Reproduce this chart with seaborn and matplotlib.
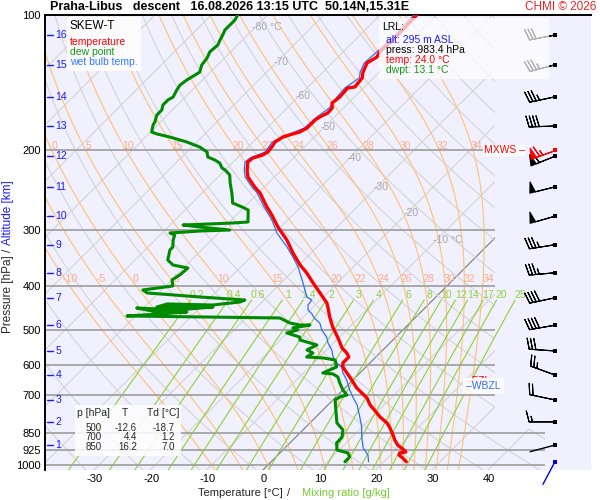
import numpy as np
import pandas as pd
import matplotlib
matplotlib.use("Agg")
import matplotlib.pyplot as plt
import seaborn as sns
from matplotlib.patches import Polygon, Rectangle
from matplotlib.transforms import ScaledTranslation, blended_transform_factory

# ---- sounding: temperature, dew point, wet bulb (hPa, degC)
temp_p = [100, 110.8, 120.8, 124.0, 127.8, 133.9, 138.0, 144.5, 145.3, 152.1,
          156.9, 160.9, 165.1, 168.5, 171.1, 178.3, 182.0, 183.8, 186.7, 191.5,
          196.5, 201.6, 204.7, 207.9, 212.1, 221.0, 229.1, 241.2, 248.7, 267.1,
          278.3, 295.9, 316.2, 338.0, 359.4, 374.4, 394.0, 414.7, 436.5, 447.8,
          469.0, 493.5, 522.2, 549.5, 563.7, 575.4, 593.3, 605.6, 624.5, 647.3,
          674.3, 691.8, 709.7, 735.6, 762.5, 782.2, 806.5, 827.3, 857.7, 879.9,
          902.8, 921.3, 935.6, 940.4, 950.1, 964.8, 983.4]
temp_c = [-53.5, -53.3, -53.5, -53.1, -53.8, -52.9, -52.0, -51.7, -52.8, -52.6,
          -52.9, -52.0, -51.9, -52.6, -52.9, -52.9, -53.5, -54.4, -55.6, -56.1,
          -55.8, -55.6, -56.0, -57.2, -57.4, -56.1, -54.7, -51.7, -49.7, -46.0,
          -43.7, -40.5, -36.6, -33.2, -29.8, -27.2, -24.3, -21.3, -18.3, -17.2,
          -15.3, -13.0, -10.1, -7.6, -5.9, -4.8, -4.8, -4.1, -2.3, -0.2,
          2.1, 3.9, 5.7, 7.5, 9.8, 11.4, 13.7, 15.1, 16.9, 18.1,
          19.5, 21.1, 22.2, 21.3, 21.5, 22.7, 24.0]

dewp_p = [100, 102.6, 105.2, 108.0, 110.8, 113.6, 116.6, 120.8, 124.6, 129.2,
          133.9, 135.9, 139.5, 143.1, 146.8, 152.1, 154.5, 158.5, 162.6, 166.8,
          172.9, 175.5, 182.0, 183.8, 186.7, 191.5, 196.5, 201.6, 206.8, 210.0,
          213.3, 218.8, 221.0, 226.7, 236.2, 248.7, 261.7, 267.1, 271.2, 288.4,
          289.9, 292.9, 295.9, 300.5, 302.0, 305.1, 308.3, 316.2, 327.9, 332.8,
          350.3, 359.4, 365.0, 378.2, 387.9, 400.1, 408.4, 414.7, 423.3, 429.9,
          434.3, 441.0, 438.7, 445.6, 445.6, 452.4, 447.8, 457.1, 457.1, 461.7,
          466.5, 471.3, 483.6, 488.6, 488.6, 496.1, 501.2, 508.9, 519.5, 527.5,
          535.6, 541.2, 555.0, 563.7, 575.4, 578.3, 584.3, 605.6, 624.5, 627.7,
          637.4, 657.3, 681.3, 698.9, 706.1, 717.0, 754.7, 806.5, 835.8, 866.6,
          893.6, 926.1, 940.4, 959.9, 983.4]
dewp_c = [-85.3, -84.9, -84.9, -84.9, -84.4, -84.0, -83.5, -83.7, -83.1, -82.8,
          -81.9, -82.2, -82.8, -83.1, -82.8, -82.2, -82.6, -82.6, -81.9, -81.9,
          -81.0, -80.8, -79.8, -78.5, -75.7, -71.8, -68.6, -66.4, -65.4, -63.6,
          -62.2, -60.9, -60.0, -58.3, -56.8, -54.7, -52.8, -50.4, -48.8, -46.7,
          -49.2, -57.7, -54.4, -48.5, -53.6, -58.6, -57.4, -56.8, -55.6, -55.6,
          -54.2, -52.4, -49.2, -49.4, -49.9, -48.7, -53.3, -52.0, -41.9, -33.4,
          -33.9, -38.2, -46.5, -47.8, -37.8, -43.7, -51.2, -46.9, -41.6, -46.0,
          -51.5, -24.0, -21.3, -19.2, -17.4, -19.9, -18.7, -20.1, -17.1, -16.5,
          -14.2, -12.6, -13.5, -11.9, -12.3, -9.2, -6.7, -5.2, -6.6, -4.6,
          -3.2, -1.8, 0.0, 1.6, 0.7, 0.4, 2.3, 4.8, 7.1, 8.2,
          8.3, 9.6, 12.1, 13.1, 13.1]

wetb_p = [100, 110.8, 120.8, 127.8, 133.9, 138.0, 145.3, 152.1, 160.9, 168.5,
          178.3, 183.8, 191.5, 201.6, 207.9, 212.1, 221.0, 229.1, 241.2, 248.7,
          267.1, 278.3, 288.4, 305.1, 316.2, 327.9, 345.0, 363.1, 387.9, 408.4,
          423.3, 429.9, 441.0, 452.4, 461.7, 471.3, 483.6, 501.2, 519.5, 535.6,
          555.0, 575.4, 593.3, 605.6, 624.5, 647.3, 681.3, 706.1, 735.6, 782.2,
          823.2, 866.6, 916.6, 950.1, 983.4]
wetb_c = [-54.0, -53.8, -54.0, -54.3, -53.4, -52.5, -53.3, -53.1, -52.5, -53.1,
          -53.4, -54.9, -56.6, -56.1, -57.7, -57.9, -56.6, -55.2, -52.2, -50.2,
          -46.5, -44.2, -42.3, -39.6, -37.5, -35.3, -32.5, -29.8, -26.8, -24.5,
          -22.9, -21.5, -21.3, -20.4, -19.0, -17.9, -16.0, -14.4, -12.3, -11.0,
          -9.1, -7.6, -5.9, -4.3, -3.0, -1.1, 1.2, 3.0, 5.2, 7.8,
          9.9, 11.7, 13.9, 16.0, 17.3]

# ---- altitude scale and winds at each km
alt_km = [1, 2, 3, 4, 5, 6, 7, 8, 9, 10, 11, 12, 13, 14, 15, 16]
alt_p = [903, 802, 717, 631, 558, 489, 425, 374, 324, 280, 241, 206, 176.5, 152, 129, 110.8]
wind_dir = [255, 270, 282, 290, 274, 260, 258, 265, 261, 254, 256, 248, 268, 258, 255, 259]
wind_kt = [3, 15, 20, 25, 30, 40, 40, 35, 35, 50, 50, 60, 40, 35, 35, 30]
mxws_p, mxws_dir, mxws_kt = 200, 250, 65
sfc_p, sfc_dir, sfc_kt = 983.4, 208, 2

# ---- diagram furniture
p_levels = [100, 200, 300, 400, 500, 600, 700, 850, 925, 1000]
t_ticks = [-30, -20, -10, 0, 10, 20, 30, 40]
isotherms = list(range(-140, 60, 10))
dry_theta = list(range(200, 490, 10))
theta_w = [-10, -5, 0, 5, 10, 15, 20, 22, 24, 26, 28, 30, 32, 34]
theta_w_top = [0, 5, 10, 15, 20, 22, 24, 26, 28, 30, 32, 34]
mix_ratio = [0.2, 0.4, 0.6, 1, 1.4, 2, 3, 4, 6, 8, 10, 12, 14, 17, 20, 25]
iso_lbl_t = [-80, -70, -60, -50, -40, -30, -20, -10]
iso_lbl_p = [106.3, 127.2, 151.4, 177.4, 207.7, 240.7, 275.5, 316.0]
table_p = [500, 700, 850]
table_t = [-12.6, 4.4, 16.2]
table_td = [-18.7, 1.2, 7.0]

SKEW = 79.93          # degC per decade of pressure
X_LEFT, X_RIGHT = -39.6, 57.4
X_GRID1, X_GRID2 = 40.3, 49.2
X_BARB = 51.0
P_BOTTOM = 1026


def skew_x(t, p):
    return np.asarray(t, float) + SKEW * np.log10(1000.0 / np.asarray(p, float))


def moist_lapse(pp, tk):
    es = 6.112 * np.exp(17.67 * (tk - 273.15) / (tk - 29.65))
    rs = 0.622 * es / (pp - es)
    return (287.04 * tk + 2.501e6 * rs) / (pp * (1005.7 + 2.501e6 ** 2 * rs * 0.622 / (287.04 * tk ** 2)))


def pseudo_adiabat(tw, p_path):
    tk = [np.asarray(tw, float) + 273.15]
    for p0, p1 in zip(p_path[:-1], p_path[1:]):
        h = p1 - p0
        t0 = tk[-1]
        k1 = moist_lapse(p0, t0)
        k2 = moist_lapse(p0 + h / 2, t0 + h * k1 / 2)
        k3 = moist_lapse(p0 + h / 2, t0 + h * k2 / 2)
        k4 = moist_lapse(p1, t0 + h * k3)
        tk.append(t0 + h * (k1 + 2 * k2 + 2 * k3 + k4) / 6)
    return np.array(tk) - 273.15


def dewpoint_of_mix(w, p):
    e = (w / 1000.0) * p / (0.622 + w / 1000.0)
    a = np.log(e / 6.112)
    return 243.5 * a / (17.67 - a)


def fig_xy(x, y):
    return x / 600, 1 - y / 500


sns.set_theme(style="white")
plt.rcParams["font.family"] = ["Liberation Sans", "DejaVu Sans"]
plt.rcParams["axes.unicode_minus"] = False

fig = plt.figure(figsize=(6, 5), dpi=100)
ax = fig.add_axes([45 / 600, 30 / 500, 546 / 600, 455 / 500])
ax.set_facecolor("#f0f0fe")
ax.set_yscale("log")
ax.set_ylim(P_BOTTOM, 100)
ax.set_xlim(X_LEFT, X_RIGHT)

clip = Polygon([(X_LEFT - 5, 90), (X_GRID1, 90), (X_GRID1, 830), (X_GRID2, 830),
                (X_GRID2, 1100), (X_LEFT - 5, 1100)], closed=True,
               transform=ax.transData, fc="none", ec="none")

# isotherms and dry adiabats
p_edge = np.array([1100, 90])
p_curve = np.geomspace(1100, 90, 150)
for t in isotherms:
    ln, = ax.plot(skew_x(t, p_edge), p_edge, color="#7a7a7a" if t == 0 else "#d4d4d4",
                  lw=0.8, zorder=1)
    ln.set_clip_path(clip)
for th in dry_theta:
    tc = th * (p_curve / 1000.0) ** 0.2857 - 273.15
    ln, = ax.plot(skew_x(tc, p_curve), p_curve, color="#d4d4d4", lw=0.8, zorder=1)
    ln.set_clip_path(clip)

# moist adiabats
p_up = np.geomspace(1000, 100, 200)
p_dn = np.geomspace(1000, 1100, 10)
t_up = pseudo_adiabat(theta_w, p_up)
t_dn = pseudo_adiabat(theta_w, p_dn)
for i, tw in enumerate(theta_w):
    pp = np.concatenate([p_dn[::-1], p_up[1:]])
    tt = np.concatenate([t_dn[::-1, i], t_up[1:, i]])
    ln, = ax.plot(skew_x(tt, pp), pp, color="#ffc275", lw=0.8, zorder=1.5)
    ln.set_clip_path(clip)
    for row_p, row_vals in ((195, theta_w_top), (386, theta_w)):
        if tw in row_vals:
            t_at = np.interp(np.log(row_p), np.log(p_up[::-1]), t_up[::-1, i])
            ax.text(skew_x(t_at, row_p) + 0.9, row_p, f"{tw:g}", color="#ffab8a", fontsize=7.5,
                    ha="center", va="center", zorder=2)

# mixing ratio lines
p_mix = np.geomspace(1100, 430, 40)
for w in mix_ratio:
    ax.plot(skew_x(dewpoint_of_mix(w, p_mix), p_mix), p_mix, color="#8fd22e", lw=0.8, zorder=1.8)
    ax.text(skew_x(dewpoint_of_mix(w, 419.0), 419.0) + 0.4, 419.0, f"{w:g}", color="#95cf3e",
            fontsize=7.5, ha="center", va="center", zorder=2)

# isotherm labels
for t, p in zip(iso_lbl_t, iso_lbl_p):
    txt = f"{t} °C" if t in (-80, -10) else f"{t}"
    ax.text(skew_x(t, p) - 0.6, p, txt, color="#a8a8a8", fontsize=7.5, ha="left", va="center", zorder=2)

# pressure level lines
ax.hlines([200, 300, 400, 500, 600, 700], X_LEFT, X_GRID1, color="#a3a3a3", lw=1.3, zorder=2)
ax.hlines([850, 925, 1000], X_LEFT, X_GRID2, color="#a3a3a3", lw=1.3, zorder=2)

# profiles
prof_t = pd.DataFrame({"p": temp_p, "X": skew_x(temp_c, temp_p)})
prof_td = pd.DataFrame({"p": dewp_p, "X": skew_x(dewp_c, dewp_p)})
prof_tw = pd.DataFrame({"p": wetb_p, "X": skew_x(wetb_c, wetb_p)})
sns.lineplot(data=prof_tw, x="X", y="p", sort=False, estimator=None, color="#2f6ff5", lw=0.9, ax=ax, zorder=3)
sns.lineplot(data=prof_td, x="X", y="p", sort=False, estimator=None, color="#008a00", lw=2.2, ax=ax, zorder=4)
sns.lineplot(data=prof_t, x="X", y="p", sort=False, estimator=None, color="#ff0000", lw=2.4, ax=ax, zorder=5)

# altitude scale
blend = blended_transform_factory(ax.transAxes, ax.transData)
for km, p in zip(alt_km, alt_p):
    ax.plot([0.004, 0.015], [p, p], color="#1a1aff", lw=1.0, transform=blend, zorder=6)
    ax.text(0.019, p, str(km), color="#1a1aff", fontsize=7.5, ha="left", va="center",
            transform=blend, zorder=6)

# wind barbs
wd = np.radians(wind_dir)
spd = np.array(wind_kt, float)
has_barb = spd >= 5
u = -spd * np.sin(wd)
v = -spd * np.cos(wd)
barb_sizes = dict(height=0.42, spacing=0.13, width=0.22)
ax.barbs(np.full(has_barb.sum(), X_BARB), np.array(alt_p)[has_barb], u[has_barb], v[has_barb],
         length=6.1, lw=0.8, color="black", sizes=barb_sizes, zorder=6, clip_on=False)
md = np.radians(mxws_dir)
ax.barbs([X_BARB], [mxws_p], [-mxws_kt * np.sin(md)], [-mxws_kt * np.cos(md)],
         length=6.1, lw=0.8, color="red", sizes=barb_sizes, zorder=6, clip_on=False)
staff_pt = 18.5
for p, d, col in [(alt_p[i], wind_dir[i], "black") for i in range(len(alt_p)) if not has_barb[i]] + \
                 [(sfc_p, sfc_dir, "#0000ee")]:
    r = np.radians(d)
    ax.annotate("", xy=(X_BARB, p), xytext=(staff_pt * np.sin(r), staff_pt * np.cos(r)),
                textcoords="offset points", annotation_clip=False,
                arrowprops=dict(arrowstyle="-", color=col, lw=1.0, shrinkA=0, shrinkB=0))
ax.scatter(np.full(len(alt_p), X_BARB), alt_p, marker="s", s=9, color="black", zorder=7, clip_on=False, lw=0)
ax.scatter([X_BARB], [mxws_p], marker="s", s=9, color="red", zorder=7, clip_on=False, lw=0)
ax.scatter([X_BARB], [sfc_p], marker="s", s=9, color="#0000ee", zorder=7, clip_on=False, lw=0)

ax.text(45.6, mxws_p, "MXWS –", color="red", fontsize=7.5, ha="right", va="center", zorder=6,
        bbox=dict(fc="white", ec="none", pad=0.2, alpha=0.9))
# freezing level label sits mostly under the wet-bulb-zero box, as in the original
ax.text(35.2, 650, "–FZL", color="red", fontsize=7.5, ha="left", va="center", zorder=6)
ax.text(35.2, 667, "–WBZL", color="#2f6ff5", fontsize=7.5, ha="left", va="center", zorder=7,
        bbox=dict(fc="white", ec="none", pad=2.2, alpha=0.85))

# axes, ticks
for side in ("right", "bottom"):
    ax.spines[side].set_visible(False)
for side in ("left", "top"):
    ax.spines[side].set_color("black")
    ax.spines[side].set_linewidth(1.4)
ax.set_yticks(p_levels, [str(p) for p in p_levels])
ax.yaxis.set_minor_locator(matplotlib.ticker.NullLocator())
ax.set_xticks(t_ticks, [str(t) for t in t_ticks])
ax.tick_params(axis="both", length=0, labelsize=8, colors="black")
ax.tick_params(axis="y", pad=3)
ax.tick_params(axis="x", pad=3)
shift = ScaledTranslation(-4 / 100, 0, fig.dpi_scale_trans)
for lbl in ax.get_xticklabels():
    lbl.set_transform(lbl.get_transform() + shift)
ax.set_xlabel("")
ax.set_ylabel("")

# boxes and texts in pixel positions
def box(x0, y0, x1, y1, alpha):
    bx, by = fig_xy(x0, y1)
    fig.add_artist(Rectangle((bx, by), (x1 - x0) / 600, (y1 - y0) / 500, transform=fig.transFigure,
                             fc="white", ec="none", alpha=alpha, zorder=1))

def ftext(x, y, s, **kw):
    fx, fy = fig_xy(x, y)
    kw.setdefault("va", "center")
    kw.setdefault("fontsize", 7.5)
    fig.text(fx, fy, s, **kw)

box(67, 17, 141, 71, 0.85)
ftext(70, 26, "SKEW-T", fontsize=8.5, color="black")
ftext(70, 42, "temperature", color="red")
ftext(70, 52, "dew point", color="#119911")
ftext(70, 62, "wet bulb temp.", color="#3377ff")

box(379, 18, 549, 79, 0.7)
ftext(382, 27, "LRL:", color="black")
ftext(386, 40, "alt: 295 m ASL", color="#1a1aff")
ftext(386, 50, "press: 983.4 hPa", color="black")
ftext(386, 60, "temp: 24.0 °C", color="red")
ftext(386, 70, "dwpt: 13.1 °C", color="#119911")

box(75, 405, 181, 456, 0.85)
ftext(77, 413, "p [hPa]", fontsize=7.5)
ftext(125, 413, "T", fontsize=7.5, ha="center")
ftext(147, 413, "Td [°C]", fontsize=7.5)
for i, (p, t, td) in enumerate(zip(table_p, table_t, table_td)):
    y = 428 + 9.5 * i
    ftext(102, y, f"{p}", ha="right", fontsize=7)
    ftext(137, y, f"{t:.1f}", ha="right", fontsize=7)
    ftext(175, y, f"{td:.1f}", ha="right", fontsize=7)

ftext(50, 7, "Praha-Libus   descent   16.08.2026 13:15 UTC  50.14N,15.31E", fontsize=9,
      fontweight="bold", color="black")
ftext(596, 7, "CHMI © 2026", fontsize=8.5, color="#ee2222", ha="right")

ftext(283, 493, "Temperature [°C]", fontsize=8, ha="right")
ftext(289, 493, "/", fontsize=8, ha="center")
ftext(302, 493, "Mixing ratio [g/kg]", fontsize=8, color="#77cc33")
ftext(8, 294, "Pressure [hPa]", fontsize=8.5, rotation=90, ha="center")
ftext(8, 250, "/", fontsize=8.5, rotation=90, ha="center")
ftext(8, 213, "Altitude [km]", fontsize=8.5, rotation=90, ha="center", color="#1a1aff")

fig.savefig("out.png", dpi=100)
